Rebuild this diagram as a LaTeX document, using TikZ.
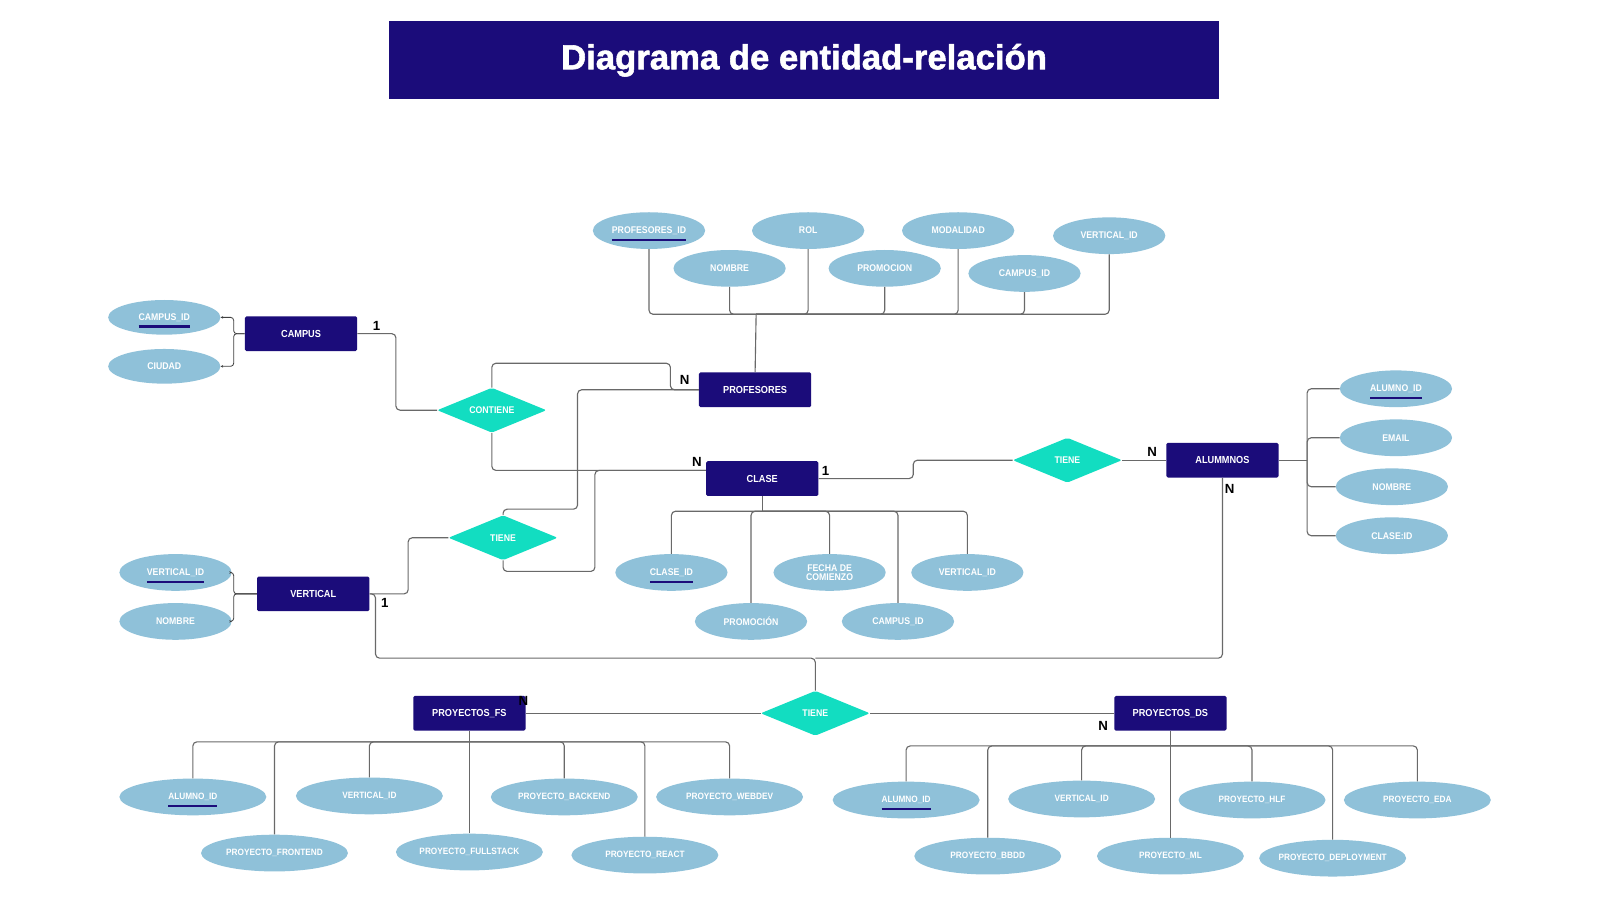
\documentclass[tikz,border=0pt]{standalone}
\usepackage{fontspec}
\setmainfont{Liberation Sans}
\newfontfamily\nfont{Liberation Sans}[FakeStretch=0.9]
\newfontfamily\tfont{Liberation Sans}[FakeBold=1.6]
\usetikzlibrary{shapes.geometric,arrows.meta}
\definecolor{entc}{RGB}{27,12,122}
\definecolor{attrc}{RGB}{143,193,217}
\definecolor{relc}{RGB}{18,221,193}
\definecolor{linec}{RGB}{105,105,105}
\newcommand\pkey[1]{\setbox0=\hbox{#1}\leavevmode\rlap{\smash{\raisebox{-7.6pt}{\color{entc}\vrule width\wd0 height 2.4pt depth 0pt}}}\box0}
\tikzset{
  ent/.style={rectangle, fill=entc, rounded corners=1.5pt, minimum width=110pt, minimum height=34pt, text=white, font=\nfont\bfseries\fontsize{10}{11}\selectfont, inner sep=0pt},
  attr/.style={ellipse, fill=attrc, minimum width=110pt, minimum height=36pt, text=white, font=\nfont\bfseries\fontsize{9.5}{10}\selectfont, inner sep=0pt, align=center},
  wattr/.style={attr, minimum width=144pt, font=\nfont\bfseries\fontsize{9}{10}\selectfont},
  rel/.style={diamond, fill=relc, minimum width=107pt, minimum height=44pt, text=white, font=\nfont\bfseries\fontsize{9.5}{10}\selectfont, inner sep=0pt, rounded corners=2pt},
  conn/.style={draw=linec, line width=1.1pt, rounded corners=4pt},
  tconn/.style={draw=black!75, line width=0.8pt, rounded corners=3pt, -{Stealth[length=2.5pt,width=2.5pt]}},
  card/.style={font=\bfseries\fontsize{13}{13}\selectfont, text=black, inner sep=0pt}
}
\begin{document}
\begin{tikzpicture}[x=1pt,y=-1pt]
\useasboundingbox (0,0) rectangle (1568,882);
\fill[white] (0,0) rectangle (1568,882);
% title
\node[fill=entc, minimum width=814pt, minimum height=76pt, inner sep=0pt, text=white, font=\tfont\bfseries\fontsize{34}{34}\selectfont] (title) at (788,59) {Diagrama de entidad-relación};

% entities
\node[ent] (campus) at (295,327) {CAMPUS};
\node[ent] (prof) at (740,382) {PROFESORES};
\node[ent] (clase) at (747,469) {CLASE};
\node[ent] (alum) at (1198,451) {ALUMMNOS};
\node[ent] (vert) at (307,582) {VERTICAL};
\node[ent] (pfs) at (460,699) {PROYECTOS\_FS};
\node[ent] (pds) at (1147,699) {PROYECTOS\_DS};

% relationships
\node[rel] (contiene) at (482,402) {\makebox[0pt]{CONTIENE}};
\node[rel] (tieneL) at (493,527) {\makebox[0pt]{TIENE}};
\node[rel] (tieneR) at (1046,451) {\makebox[0pt]{TIENE}};
\node[rel] (tieneB) at (799,699) {\makebox[0pt]{TIENE}};

% campus attributes
\node[attr, minimum height=34pt] (c1) at (161,311) {\pkey{CAMPUS\_ID}};
\node[attr, minimum height=34pt] (c2) at (161,359) {CIUDAD};
% profesores attributes
\node[attr] (p1) at (636,226) {\pkey{PROFESORES\_ID}};
\node[attr] (p2) at (715,263) {NOMBRE};
\node[attr] (p3) at (792,226) {ROL};
\node[attr] (p4) at (867,263) {PROMOCION};
\node[attr] (p5) at (939,226) {MODALIDAD};
\node[attr] (p6) at (1004,268) {CAMPUS\_ID};
\node[attr] (p7) at (1087,231) {VERTICAL\_ID};
% clase attributes
\node[attr] (k1) at (658,561) {\pkey{CLASE\_ID}};
\node[attr] (k2) at (736,609) {PROMOCIÓN};
\node[attr] (k3) at (813,561) {FECHA DE\\[-1.5pt]COMIENZO};
\node[attr] (k4) at (880,609) {CAMPUS\_ID};
\node[attr] (k5) at (948,561) {VERTICAL\_ID};
% alumnos attributes
\node[attr] (a1) at (1368,381) {\pkey{ALUMNO\_ID}};
\node[attr] (a2) at (1368,429) {EMAIL};
\node[attr] (a3) at (1364,477) {NOMBRE};
\node[attr] (a4) at (1364,525) {CLASE:ID};
% vertical attributes
\node[attr] (v1) at (172,561) {\pkey{VERTICAL\_ID}};
\node[attr] (v2) at (172,609) {NOMBRE};
% proyectos fs attributes
\node[wattr] (f1) at (189,781) {\pkey{ALUMNO\_ID}};
\node[wattr] (f2) at (269,836) {PROYECTO\_FRONTEND};
\node[wattr] (f3) at (362,780) {VERTICAL\_ID};
\node[wattr] (f4) at (460,835) {PROYECTO\_FULLSTACK};
\node[wattr] (f5) at (553,781) {PROYECTO\_BACKEND};
\node[wattr] (f6) at (632,838) {PROYECTO\_REACT};
\node[wattr] (f7) at (715,781) {PROYECTO\_WEBDEV};
% proyectos ds attributes
\node[wattr] (d1) at (888,784) {\pkey{ALUMNO\_ID}};
\node[wattr] (d2) at (968,839) {PROYECTO\_BBDD};
\node[wattr] (d3) at (1060,783) {VERTICAL\_ID};
\node[wattr] (d4) at (1147,839) {PROYECTO\_ML};
\node[wattr] (d5) at (1227,784) {PROYECTO\_HLF};
\node[wattr] (d6) at (1306,841) {\makebox[0pt]{PROYECTO\_DEPLOYMENT}};
\node[wattr] (d7) at (1389,784) {PROYECTO\_EDA};

% attribute connectors
\coordinate (pbus) at (741,308);
\foreach \n in {p1,p2,p3,p4,p5,p6,p7} \draw[conn] (\n.south) |- (pbus);
\draw[conn] (pbus) -- (prof.north);

\coordinate (kbus) at (747,501);
\foreach \n in {k1,k2,k3,k4,k5} \draw[conn] (\n.north) |- (kbus);
\draw[conn] (kbus) -- (clase.south);

\coordinate (abus) at (1281,451);
\draw[conn] (alum.east) -- (abus);
\foreach \n in {a1,a2,a3,a4} \draw[conn] (abus) |- (\n.west);

\coordinate (fbus) at (460,727);
\foreach \n in {f1,f2,f3,f4,f5,f6,f7} \draw[conn] (\n.north) |- (fbus);
\draw[conn] (fbus) -- (pfs.south);

\coordinate (dbus) at (1147,731);
\foreach \n in {d1,d2,d3,d4,d5,d6,d7} \draw[conn] (\n.north) |- (dbus);
\draw[conn] (dbus) -- (pds.south);

\coordinate (cbus) at (229,327);
\draw[tconn] (campus.west) -- (cbus) |- (c1.east);
\draw[tconn] (campus.west) -- (cbus) |- (c2.east);
\coordinate (vbus) at (229,582);
\draw[tconn] (vert.west) -- (vbus) |- (v1.east);
\draw[tconn] (vert.west) -- (vbus) |- (v2.east);

% relationship connectors
\draw[conn] (campus.east) -- (388,327) |- (contiene.west);
\draw[conn] (contiene.north) |- (657,356) |- (prof.west);
\draw[conn] (contiene.south) |- ([yshift=8pt]clase.west);
\draw[conn] (tieneL.north) |- (566,499) |- (prof.west);
\draw[conn] (tieneL.south) |- (583,560) |- ([yshift=8pt]clase.west);
\draw[conn] (vert.east) -- (400,582) |- (tieneL.west);
\draw[conn] (vert.east) -| (368,645) -| (tieneB.north);
\draw[conn] (alum.south) |- (799,645);
\draw[conn] (clase.east) -- (895,469) |- (tieneR.west);
\draw[conn] (tieneR.east) -- (alum.west);
\draw[conn] (tieneB.west) -- (pfs.east);
\draw[conn] (tieneB.east) -- (pds.west);

% cardinalities
\node[card] (n1) at (369,319) {1};
\node[card] (n2) at (671,372) {N};
\node[card] (n3) at (683,453) {N};
\node[card] (n4) at (809,462) {1};
\node[card] (n5) at (1129,443) {N};
\node[card] (n6) at (1205,479) {N};
\node[card] (n7) at (377,591) {1};
\node[card] (n8) at (513,687) {N};
\node[card] (n9) at (1081,711) {N};
\end{tikzpicture}
\end{document}
